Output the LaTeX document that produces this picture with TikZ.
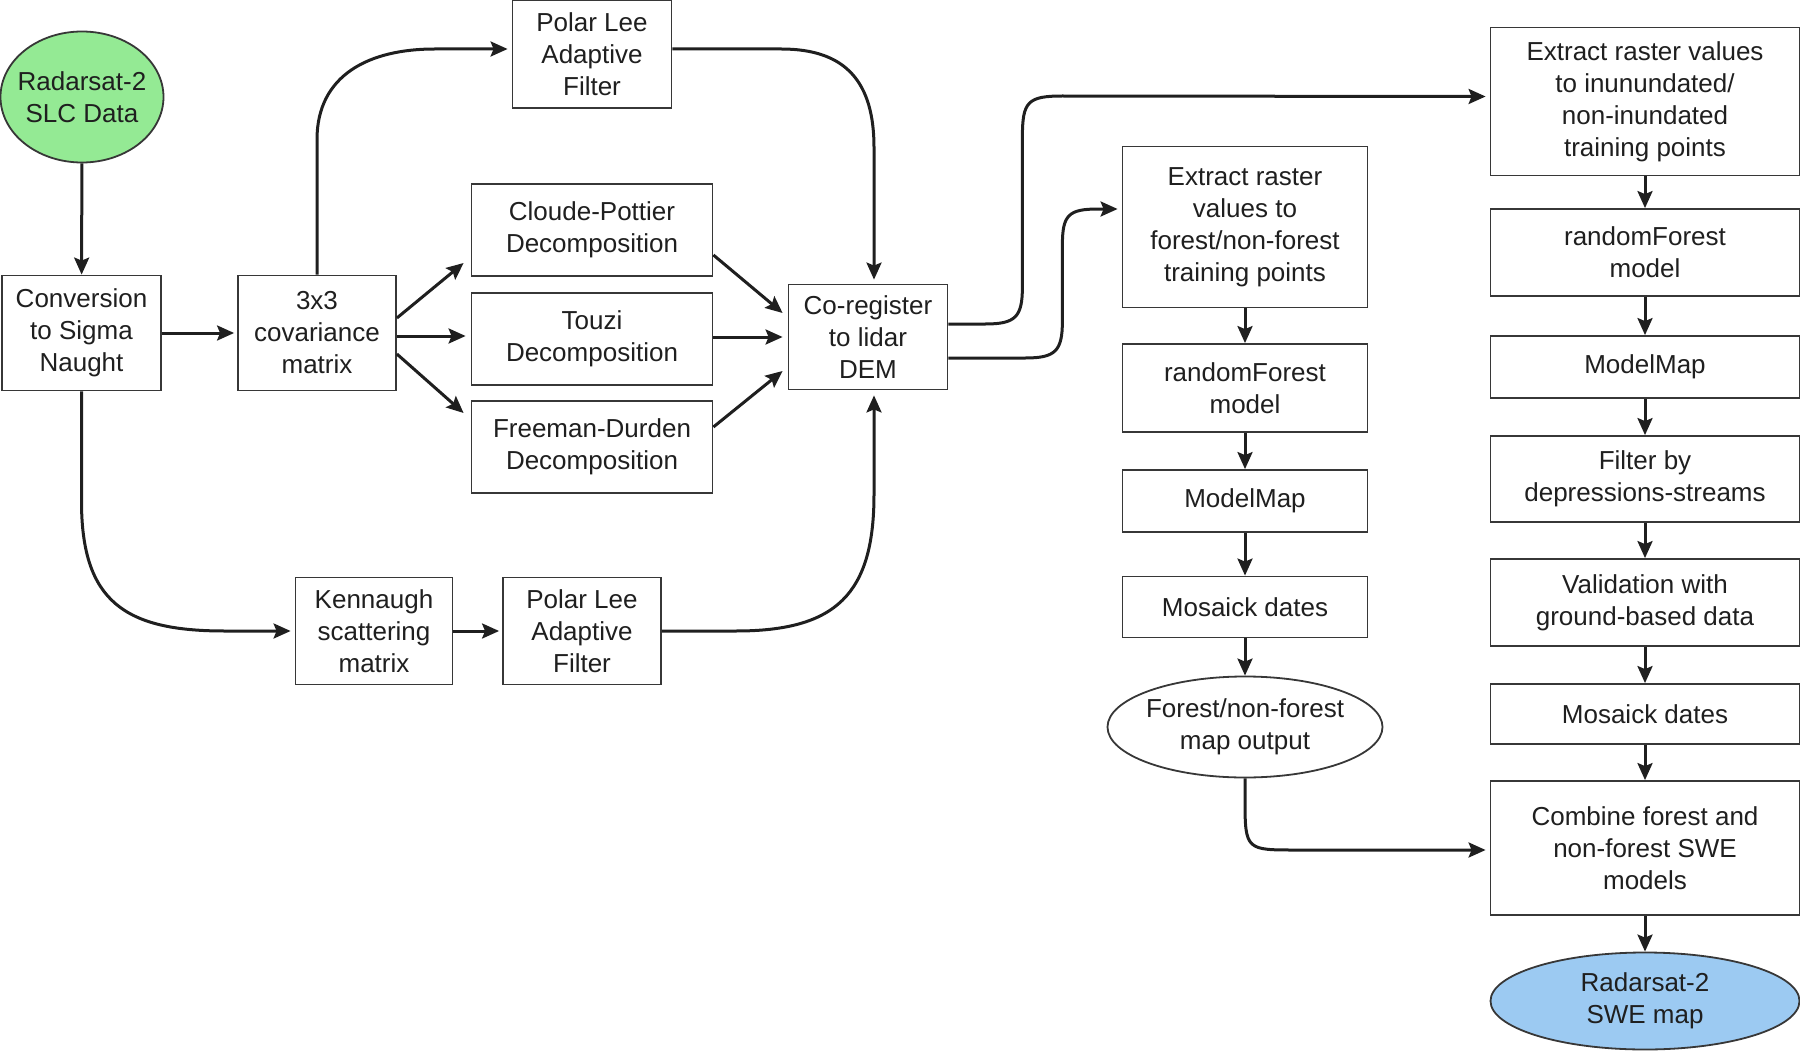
\documentclass[tikz,border=0pt]{standalone}
\usepackage{fontspec}
\setmainfont{Liberation Sans}
\usetikzlibrary{shapes.geometric,arrows.meta,calc}
\definecolor{srcgreen}{RGB}{148,234,148}
\definecolor{outblue}{RGB}{156,202,242}
\definecolor{edge}{RGB}{55,55,55}
\begin{document}
\begin{tikzpicture}[x=1pt,y=-1pt,
  box/.style={draw=edge,line width=1.8pt,fill=white,align=center,inner sep=0pt,
    font=\fontsize{26}{32}\selectfont,text=black!88},
  oval/.style={box,ellipse,inner xsep=-22pt,inner ysep=-8pt},
  arr/.style={line width=3pt,draw=black!88,-{Stealth[length=17pt,width=15pt,inset=3pt]}},
]
\useasboundingbox (0,0) rectangle (1800,1054);

% left part
\node[oval,fill=srcgreen,minimum width=163pt,minimum height=131pt] (src) at (82,97) {Radarsat-2\\SLC Data};
\node[box,minimum width=159pt,minimum height=115pt] (conv) at (81.5,333) {Conversion\\to Sigma\\Naught};
\node[box,minimum width=158pt,minimum height=115pt] (cov) at (317,333) {3x3\\covariance\\matrix};
\node[box,minimum width=159pt,minimum height=108pt] (polT) at (592,54) {Polar Lee\\Adaptive\\Filter};
\node[box,minimum width=241pt,minimum height=92pt] (cloude) at (592,230) {Cloude-Pottier\\Decomposition};
\node[box,minimum width=241pt,minimum height=92pt] (touzi) at (592,339) {Touzi\\Decomposition};
\node[box,minimum width=241pt,minimum height=92pt] (freeman) at (592,447) {Freeman-Durden\\Decomposition};
\node[box,minimum width=159pt,minimum height=105pt] (coreg) at (868,337) {Co-register\\to lidar\\DEM};
\node[box,minimum width=157pt,minimum height=107pt] (kenn) at (374,631) {Kennaugh\\scattering\\matrix};
\node[box,minimum width=158pt,minimum height=107pt] (polB) at (582,631) {Polar Lee\\Adaptive\\Filter};

% middle column
\node[box,minimum width=245pt,minimum height=161pt] (extM) at (1245,227) {Extract raster\\values to\\forest/non-forest\\training points};
\node[box,minimum width=245pt,minimum height=88pt] (rfM) at (1245,388) {randomForest\\model};
\node[box,minimum width=245pt,minimum height=62pt] (mmM) at (1245,501) {ModelMap};
\node[box,minimum width=245pt,minimum height=61pt] (mosM) at (1245,607) {Mosaick dates};
\node[oval,minimum width=275pt,minimum height=101pt] (fmap) at (1245,727) {Forest/non-forest\\map output};

% right column
\node[box,minimum width=309pt,minimum height=148pt] (extR) at (1645,101.5) {Extract raster values\\to inunundated/\\non-inundated\\training points};
\node[box,minimum width=309pt,minimum height=87pt] (rfR) at (1645,252.5) {randomForest\\model};
\node[box,minimum width=309pt,minimum height=62pt] (mmR) at (1645,367) {ModelMap};
\node[box,minimum width=309pt,minimum height=86pt] (filt) at (1645,479) {Filter by\\depressions-streams};
\node[box,minimum width=309pt,minimum height=87pt] (valid) at (1645,602.5) {Validation with\\ground-based data};
\node[box,minimum width=309pt,minimum height=60pt] (mosR) at (1645,714) {Mosaick dates};
\node[box,minimum width=309pt,minimum height=134pt] (comb) at (1645,848) {Combine forest and\\non-forest SWE\\models};
\node[oval,fill=outblue,minimum width=309pt,minimum height=97pt] (swe) at (1645,1001) {Radarsat-2\\SWE map};

% connectors, left part
\draw[arr] (src) -- (conv);
\draw[arr,shorten >=3pt] (conv) -- (cov);
\draw[arr] ($(cov.east)+(0,-15)$) -- ($(cloude.west)+(-7,33)$);
\draw[arr] ($(cov.east)+(0,3)$) -- ($(touzi.west)+(-5,-3)$);
\draw[arr] ($(cov.east)+(0,21)$) -- ($(freeman.west)+(-7,-34)$);
\draw[arr] ($(cloude.east)+(0,25)$) -- ($(coreg.west)+(-5,-24)$);
\draw[arr] ($(touzi.east)+(0,-2)$) -- ($(coreg.west)+(-5,0)$);
\draw[arr] ($(freeman.east)+(0,-20)$) -- ($(coreg.west)+(-5,34)$);

\draw[arr] (cov.north) -- ++(0,-135) .. controls +(0,-65) and +(-65,0) .. ($(polT.west)+(-77,-5)$) -- ($(polT.west)+(-4,-5)$);
\draw[arr] ($(polT.east)+(0,-5)$) -- ++(109,0) .. controls +(65,0) and +(0,-65) .. ($(coreg.north)+(6,-136)$) -- ($(coreg.north)+(6,-4)$);
\draw[arr] (conv.south) -- ++(0,110) .. controls +(0,100) and +(-100,0) .. ($(kenn.west)+(-70,0)$) -- ($(kenn.west)+(-4,0)$);
\draw[arr,shorten >=3pt] (kenn) -- (polB);
\draw[arr] (polB.east) -- ++(74,0) .. controls +(100,0) and +(0,100) .. ($(coreg.south)+(6,104)$) -- ($(coreg.south)+(6,5)$);

% from co-register
\draw[arr] ($(coreg.east)+(0,-13)$) -- ++(37,0) .. controls +(30,0) and +(0,30) .. ++(37,-37) -- ++(0,-150) .. controls +(0,-35) and +(-35,0) .. ++(40,-41) -- ($(extR.west)+(-4,-5)$);
\draw[arr] ($(coreg.east)+(0,21)$) -- ++(77,0) .. controls +(30,0) and +(0,30) .. ++(37,-37) -- ++(0,-76) .. controls +(0,-30) and +(-30,0) .. ++(36,-36) -- ($(extM.west)+(-4,-18)$);

% middle column
\draw[arr] (extM) -- (rfM);
\draw[arr] (rfM) -- (mmM);
\draw[arr] (mmM) -- (mosM);
\draw[arr] (mosM) -- (fmap);
\draw[arr] (fmap.south) -- ++(0,22) .. controls +(0,50) and +(-50,0) .. ($(comb.west)+(-193,2)$) -- ($(comb.west)+(-4,2)$);

% right column
\draw[arr] (extR) -- (rfR);
\draw[arr] (rfR) -- (mmR);
\draw[arr] (mmR) -- (filt);
\draw[arr] (filt) -- (valid);
\draw[arr] (valid) -- (mosR);
\draw[arr] (mosR) -- (comb);
\draw[arr] (comb) -- (swe);
\end{tikzpicture}
\end{document}
